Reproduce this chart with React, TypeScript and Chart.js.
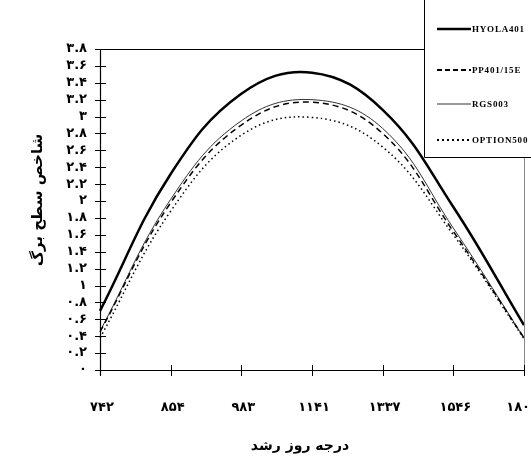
import React, { useEffect, useRef } from "react";
import { Chart, registerables } from "chart.js";

Chart.register(...registerables);

// ---- data ----
const categories = ["۷۴۲", "۸۵۴", "۹۸۳", "۱۱۴۱", "۱۳۳۷", "۱۵۴۶", "۱۸۰"];
const hyola401 = [0.7, 2.32, 3.27, 3.52, 3.08, 1.93, 0.53];
const pp401 = [0.45, 1.98, 2.9, 3.17, 2.8, 1.64, 0.38];
const rgs003 = [0.46, 2.02, 2.95, 3.2, 2.86, 1.68, 0.38];
const option500 = [0.38, 1.88, 2.78, 2.99, 2.64, 1.6, 0.37];
const seriesNames = ["HYOLA401", "PP401/15E", "RGS003", "OPTION500"];
const yMin = 0;
const yMax = 3.8;
const yStep = 0.2;
const yTitle = "شاخص سطح برگ";
const xTitle = "درجه روز رشد";

const faDigits = "۰۱۲۳۴۵۶۷۸۹";
const toFa = (s: string) => s.replace(/[0-9]/g, (d) => faDigits[+d]);

const FONT = "'DejaVu Sans', sans-serif";

const styles = [
  { color: "#000", width: 2.5, dash: [] as number[] },
  { color: "#000", width: 1.5, dash: [6, 4] },
  { color: "#333", width: 1, dash: [] as number[] },
  { color: "#000", width: 1.5, dash: [1.5, 3] },
];
const legendStyles = [
  { color: "#000", width: 2.5, dash: [] as number[] },
  { color: "#000", width: 2, dash: [5, 3] },
  { color: "#777", width: 1.5, dash: [] as number[] },
  { color: "#000", width: 2, dash: [2, 3] },
];
const legendY = [29, 70, 104, 140];

const decorPlugin = {
  id: "decor",
  afterDraw(chart: any) {
    const { ctx, chartArea, width } = chart;
    const { left, right, top, bottom } = chartArea;
    const xs = chart.scales.x;
    const ys = chart.scales.y;
    ctx.save();
    // frame
    ctx.lineWidth = 1;
    ctx.strokeStyle = "#000";
    ctx.beginPath();
    ctx.moveTo(left, top + 0.5);
    ctx.lineTo(right, top + 0.5);
    ctx.stroke();
    ctx.strokeStyle = "#888";
    ctx.beginPath();
    ctx.moveTo(right + 0.5, top);
    ctx.lineTo(right + 0.5, bottom);
    ctx.stroke();
    // axes
    ctx.strokeStyle = "#000";
    ctx.lineWidth = 1.2;
    ctx.beginPath();
    ctx.moveTo(left + 0.5, top);
    ctx.lineTo(left + 0.5, bottom + 5);
    ctx.moveTo(left - 5, bottom + 0.5);
    ctx.lineTo(right + 1, bottom + 0.5);
    ctx.stroke();
    ctx.lineWidth = 1;
    ctx.beginPath();
    ys.ticks.forEach((t: any) => {
      const y = Math.round(ys.getPixelForValue(t.value)) + 0.5;
      ctx.moveTo(left - 5, y);
      ctx.lineTo(left + 6, y);
    });
    xs.ticks.forEach((_t: any, i: number) => {
      const x = Math.round(xs.getPixelForTick(i)) + 0.5;
      ctx.moveTo(x, bottom - 5);
      ctx.lineTo(x, bottom + 6);
    });
    ctx.stroke();

    // x tick labels (kept inside the canvas at the right edge)
    ctx.fillStyle = "#000";
    ctx.font = `bold 13px ${FONT}`;
    ctx.textBaseline = "middle";
    xs.ticks.forEach((_t: any, i: number) => {
      const label = String(xs.getLabelForValue(i));
      const x = xs.getPixelForTick(i);
      const w = ctx.measureText(label).width;
      let cx = x + 2;
      if (cx + w / 2 > width - 1) cx = width - 1 - w / 2;
      ctx.textAlign = "center";
      ctx.fillText(label, cx, bottom + 38);
    });

    // titles
    ctx.font = `bold 14px ${FONT}`;
    ctx.textAlign = "center";
    ctx.textBaseline = "middle";
    ctx.fillText(xTitle, (left + right) / 2 - 12, 446);
    ctx.font = `bold 15px ${FONT}`;
    ctx.save();
    ctx.translate(38, 200);
    ctx.rotate(-Math.PI / 2);
    ctx.fillText(yTitle, 0, 0);
    ctx.restore();

    // legend
    const lx = 424;
    ctx.fillStyle = "#fff";
    ctx.fillRect(lx, -1, 140, 158);
    ctx.strokeStyle = "#000";
    ctx.lineWidth = 1;
    ctx.beginPath();
    ctx.moveTo(lx + 0.5, 0);
    ctx.lineTo(lx + 0.5, 157.5);
    ctx.lineTo(540, 157.5);
    ctx.stroke();
    ctx.font = `bold 9px 'Liberation Serif', serif`;
    (ctx as any).letterSpacing = "0.8px";
    ctx.textAlign = "left";
    ctx.textBaseline = "middle";
    seriesNames.forEach((name, i) => {
      const st = legendStyles[i];
      const y = legendY[i];
      ctx.strokeStyle = st.color;
      ctx.lineWidth = st.width;
      ctx.setLineDash(st.dash);
      ctx.beginPath();
      ctx.moveTo(437, y);
      ctx.lineTo(471, y);
      ctx.stroke();
      ctx.setLineDash([]);
      ctx.fillStyle = "#000";
      ctx.fillText(name, 472, y + 0.5);
    });
    ctx.restore();
  },
};

export default function App() {
  const ref = useRef<HTMLCanvasElement>(null);
  useEffect(() => {
    if (!ref.current) return;
    const data = [hyola401, pp401, rgs003, option500];
    const chart = new Chart(ref.current, {
      type: "line",
      data: {
        labels: categories,
        datasets: data.map((d, i) => ({
          label: seriesNames[i],
          data: d,
          borderColor: styles[i].color,
          borderWidth: styles[i].width,
          borderDash: styles[i].dash,
          pointRadius: 0,
          tension: 0.4,
          fill: false,
        })),
      },
      options: {
        responsive: false,
        animation: false,
        layout: { padding: { top: 49, right: 7, left: 0, bottom: 0 } },
        plugins: { legend: { display: false }, tooltip: { enabled: false } },
        scales: {
          x: {
            type: "category",
            offset: false,
            grid: { display: false, drawTicks: false },
            border: { display: false },
            ticks: { display: false, autoSkip: false },
            afterFit: (s: any) => {
              s.height = 88;
              s.paddingLeft = 0;
              s.paddingRight = 0;
            },
          },
          y: {
            min: yMin,
            max: yMax,
            grid: { display: false, drawTicks: false },
            border: { display: false },
            ticks: {
              stepSize: yStep,
              autoSkip: false,
              maxTicksLimit: 40,
              padding: 13,
              color: "#000",
              font: { family: FONT, weight: "bold", size: 13 },
              callback: (v: any) => {
                const n = Math.round(Number(v) * 10) / 10;
                return toFa(String(n));
              },
            },
            afterFit: (s: any) => {
              s.width = 100;
              s.paddingTop = 0;
              s.paddingBottom = 0;
            },
          },
        },
      },
      plugins: [decorPlugin],
    } as any);
    return () => chart.destroy();
  }, []);
  return (
    <div style={{ position: "fixed", left: 0, top: 0, width: 531, height: 458, background: "#fff" }}>
      <canvas ref={ref} width={531} height={458} style={{ width: 531, height: 458 }} />
    </div>
  );
}
